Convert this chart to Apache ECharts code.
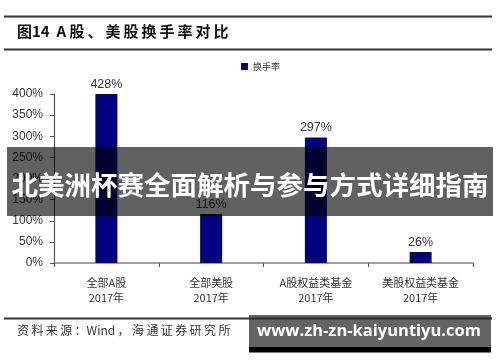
<!DOCTYPE html>
<html><head><meta charset="utf-8">
<script src="https://cdn.jsdelivr.net/npm/echarts@6/dist/echarts.min.js"></script>
<style>html,body{margin:0;padding:0;background:#fff}#c{width:500px;height:362px}</style>
</head><body><div id="c"></div>
<script>
const categories = ['全部A股\n2017年', '全部美股\n2017年', 'A股权益类基金\n2017年', '美股权益类基金\n2017年'];
const turnover = [428, 116, 297, 26];
const yTicks = [0, 50, 100, 150, 200, 250, 300, 350, 400];
const seriesName = '换手率';
const titleText = '图14  A 股\u2009、\u2009美\u2009股\u2009换\u2009手\u2009率\u2009对\u2009比';
const sourceText = '资\u2009料\u2009来\u2009源\u2009：Wind\u2009，\u2009海\u2009通\u2009证\u2009券\u2009研\u2009究\u2009所';
const bannerText = '北美洲杯赛全面解析与参与方式详细指南';
const watermarkText = 'www.zh-zn-kaiyuntiyu.com';

const chart = echarts.init(document.getElementById('c'), null, {renderer: 'canvas'});
chart.setOption({
  animation: false,
  backgroundColor: '#fff',
  legend: {
    data: [seriesName], left: 236, top: 57, itemWidth: 7, itemHeight: 7, itemGap: 3,
    icon: 'rect',
    textStyle: {fontSize: 9, color: '#333', fontFamily: 'Noto Sans CJK SC'}
  },
  grid: {left: 54, right: 27, top: 94, bottom: 99, containLabel: false},
  xAxis: {
    type: 'category', data: categories,
    axisLine: {lineStyle: {color: '#808080', width: 1.5}},
    axisTick: {show: true, length: 4, lineStyle: {color: '#555'}},
    axisLabel: {fontSize: 11, color: '#333', lineHeight: 15, margin: 12, fontFamily: 'Noto Sans CJK SC'}
  },
  yAxis: {
    type: 'value', min: yTicks[0], max: yTicks[yTicks.length - 1], interval: 50,
    splitLine: {show: false},
    axisLine: {show: true, lineStyle: {color: '#555', width: 1.2}},
    axisTick: {show: true, length: 4, inside: false, lineStyle: {color: '#555'}},
    axisLabel: {formatter: v => v + '%', fontSize: 12, color: '#333', margin: 11, fontFamily: 'Liberation Sans'}
  },
  series: [{
    name: seriesName, type: 'bar', data: turnover, barWidth: 22, clip: true,
    itemStyle: {color: '#000080'},
    label: {show: true, position: 'top', distance: 3, formatter: p => p.value + '%',
      fontSize: 12.5, color: '#333', fontFamily: 'Liberation Sans'}
  }],
  graphic: [
    {type: 'rect', shape: {x: 4, y: 15.5, width: 488, height: 2}, style: {fill: '#333'}},
    {type: 'text', left: 17, top: 24, style: {text: titleText, fontSize: 15, fontWeight: 'bold', fill: '#111', fontFamily: 'Noto Sans CJK SC'}},
    {type: 'rect', shape: {x: 4, y: 48.5, width: 488, height: 2}, style: {fill: '#333'}},
    {type: 'rect', shape: {x: 4, y: 317.5, width: 488, height: 2}, style: {fill: '#333'}},
    {type: 'text', left: 17, top: 324, style: {text: sourceText, fontSize: 12, fill: '#333', fontFamily: 'Noto Sans CJK SC'}},
    {type: 'rect', z: 100, shape: {x: 7, y: 147, width: 486, height: 69}, style: {fill: 'rgba(0,0,0,0.62)'}},
    {type: 'text', z: 101, x: 250, y: 185, style: {text: bannerText, fontSize: 26.5, fontWeight: 'bold', fill: '#fff', align: 'center', verticalAlign: 'middle', fontFamily: 'Noto Sans CJK SC'}},
    {type: 'rect', z: 100, shape: {x: 249, y: 315, width: 242, height: 32}, style: {fill: 'rgba(40,40,40,0.72)'}},
    {type: 'rect', z: 100, shape: {x: 249, y: 347, width: 242, height: 5.5}, style: {fill: '#000'}},
    {type: 'text', z: 101, x: 369, y: 331, style: {text: watermarkText, fontSize: 16.5, fontWeight: 'bold', fill: '#fff', align: 'center', verticalAlign: 'middle', fontFamily: 'Open Sans'}}
  ]
});
</script></body></html>
